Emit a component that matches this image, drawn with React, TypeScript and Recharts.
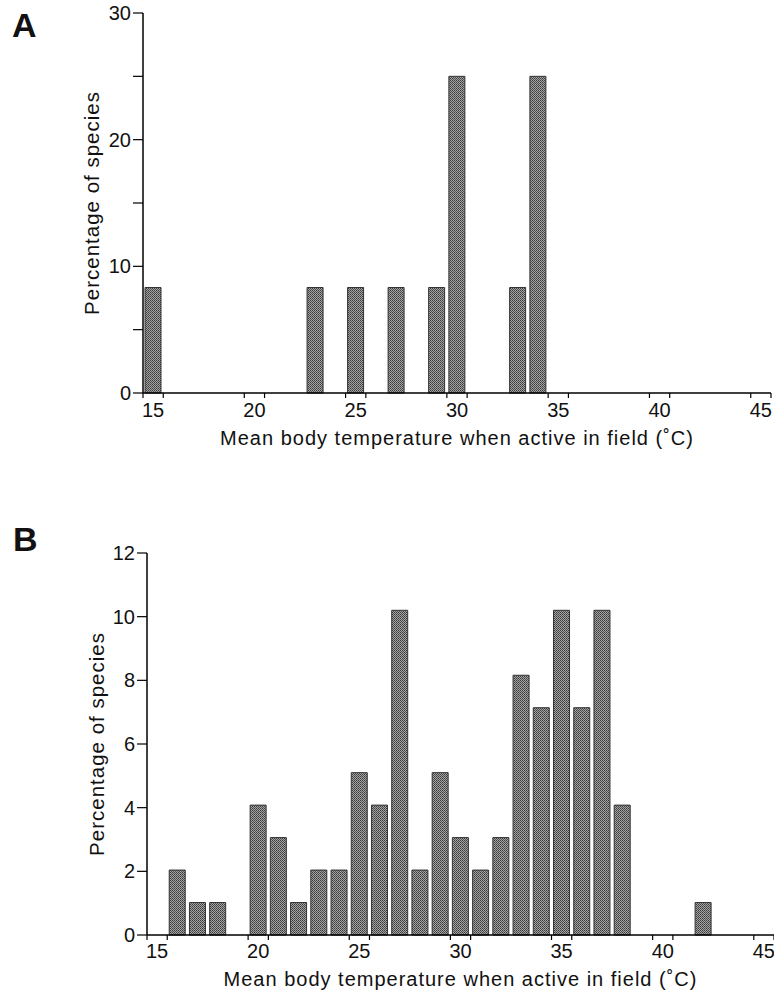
import { Bar, BarChart, XAxis, YAxis } from "recharts";

const binsA = [15, 23, 25, 27, 29, 30, 33, 34];
const pctA = [8.33, 8.33, 8.33, 8.33, 8.33, 25, 8.33, 25];

const binsB = [16, 17, 18, 20, 21, 22, 23, 24, 25, 26, 27, 28, 29, 30, 31, 32, 33, 34, 35, 36, 37, 38, 42];
const pctB = [2.04, 1.02, 1.02, 4.08, 3.06, 1.02, 2.04, 2.04, 5.1, 4.08, 10.2, 2.04, 5.1, 3.06, 2.04, 3.06, 8.16, 7.14, 10.2, 7.14, 10.2, 4.08, 1.02];

// tick marks sit on both edges of the labelled bins
const tickMarks = [15, 16, 20, 21, 25, 26, 30, 31, 35, 36, 40, 41, 45, 46];
const xLabels = [15, 20, 25, 30, 35, 40, 45];

const yTicksA = [0, 5, 10, 15, 20, 25, 30];
const yTicksB = [0, 2, 4, 6, 8, 10, 12];

const xTitle = "Mean body temperature when active in field (˚C)";
const yTitle = "Percentage of species";

const FONT = "'Liberation Sans', Arial, Helvetica, sans-serif";
const INK = "#111";

function Panel({
	id,
	bins,
	pct,
	yMax,
	yTicks,
	labelEvery,
	height,
	margin,
	yWidth,
	xHeight,
	tickGap,
	titleOffset,
}: {
	id: string;
	bins: number[];
	pct: number[];
	yMax: number;
	yTicks: number[];
	labelEvery: number;
	height: number;
	margin: { top: number; right: number; left: number; bottom: number };
	yWidth: number;
	xHeight: number;
	tickGap: number;
	titleOffset: number;
}) {
	const data = bins.map((b, i) => ({ mid: b + 0.5, pct: pct[i] }));
	return (
		<BarChart width={774} height={height} data={data} margin={margin} style={{ fontFamily: FONT }}>
			<defs>
				<pattern id={"tex" + id} width="2" height="2" patternUnits="userSpaceOnUse">
					<rect width="2" height="2" fill="#a4a4a4" />
					<rect width="1" height="1" fill="#3a3a3a" />
					<rect x="1" y="1" width="1" height="1" fill="#525252" />
				</pattern>
			</defs>
			{/* axis "a": baseline and paired tick marks */}
			<XAxis
				xAxisId="a"
				dataKey="mid"
				type="number"
				domain={[15, 46]}
				ticks={tickMarks}
				interval={0}
				tick={{ fontSize: 1, fill: "none" }}
				tickFormatter={() => ""}
				tickSize={5}
				height={1}
				axisLine={{ stroke: "#000", strokeWidth: 1.5 }}
				tickLine={{ stroke: "#000", strokeWidth: 1.2 }}
			/>
			{/* axis "b": labels centred on the bins, plus the title */}
			<XAxis
				xAxisId="b"
				dataKey="mid"
				type="number"
				domain={[15, 46]}
				ticks={xLabels.map((v) => v + 0.5)}
				interval={0}
				tickFormatter={(v: number) => String(Math.floor(v))}
				axisLine={false}
				tickLine={false}
				tickSize={0}
				tickMargin={tickGap}
				height={xHeight - 1}
				tick={{ fontSize: 20, fill: INK }}
				label={{
					value: xTitle,
					position: "insideBottom",
					offset: titleOffset,
					fontSize: 20,
					fill: INK,
					style: { letterSpacing: "1px" },
				}}
			/>
			<YAxis
				type="number"
				domain={[0, yMax]}
				ticks={yTicks}
				interval={0}
				width={yWidth}
				tickSize={10}
				axisLine={{ stroke: "#000", strokeWidth: 1.5 }}
				tickLine={{ stroke: "#000", strokeWidth: 1.2 }}
				tick={(p: any) =>
					p.payload.value % labelEvery === 0 ? (
						<text x={p.x} y={p.y} dy="0.355em" textAnchor="end" fontSize={20} fill={INK}>
							{p.payload.value}
						</text>
					) : (
						<g />
					)
				}
				label={{
					value: yTitle,
					angle: -90,
					position: "center",
					fontSize: 20.5,
					fill: INK,
					style: { letterSpacing: "1px" },
				}}
			/>
			<Bar
				xAxisId="a"
				dataKey="pct"
				barSize={16}
				fill={"url(#tex" + id + ")"}
				stroke="#333"
				strokeWidth={1}
				isAnimationActive={false}
			/>
		</BarChart>
	);
}

export default function App() {
	return (
		<div style={{ position: "absolute", left: 0, top: 0, width: 774, height: 994, background: "#fff", fontFamily: FONT }}>
			<div style={{ position: "absolute", left: 0, top: 0 }}>
				<Panel
					id="A"
					bins={binsA}
					pct={pctA}
					yMax={30}
					yTicks={yTicksA}
					labelEvery={10}
					height={460}
					margin={{ top: 13, right: 3, left: 41, bottom: 0 }}
					yWidth={102}
					xHeight={67}
					tickGap={9}
					titleOffset={15}
				/>
			</div>
			<div style={{ position: "absolute", left: 0, top: 520 }}>
				<Panel
					id="B"
					bins={binsB}
					pct={pctB}
					yMax={12}
					yTicks={yTicksB}
					labelEvery={2}
					height={474}
					margin={{ top: 33, right: 0, left: 47, bottom: 0 }}
					yWidth={100}
					xHeight={59}
					tickGap={8}
					titleOffset={8}
				/>
			</div>
			<svg width={774} height={994} style={{ position: "absolute", left: 0, top: 0, pointerEvents: "none" }}>
				<text x={12} y={37} fontSize={34} fontWeight="bold" fill={INK} fontFamily={FONT}>
					A
				</text>
				<text x={13} y={551} fontSize={34} fontWeight="bold" fill={INK} fontFamily={FONT}>
					B
				</text>
			</svg>
		</div>
	);
}
